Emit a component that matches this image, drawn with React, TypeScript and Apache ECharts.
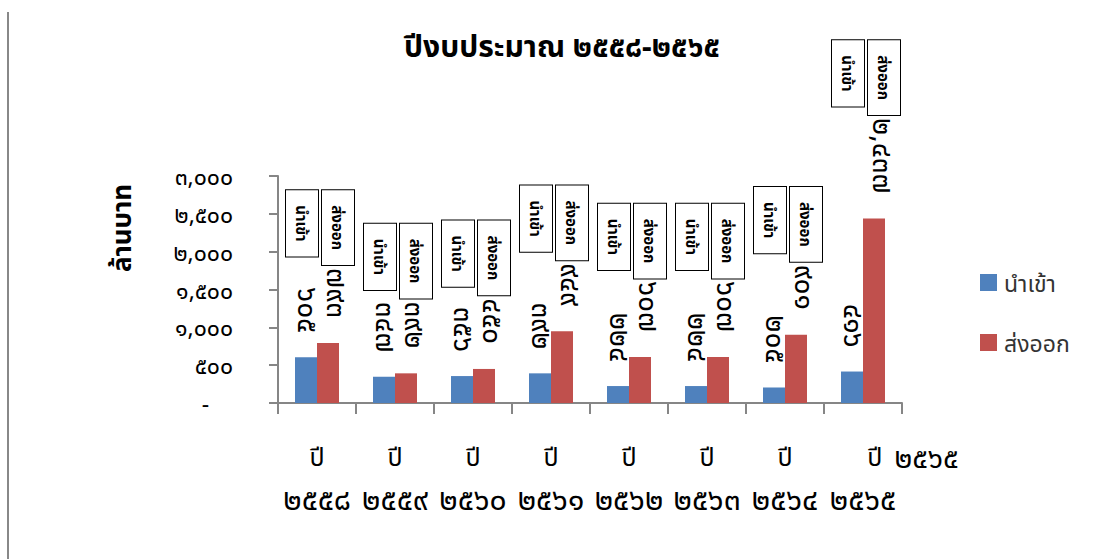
import React, { useEffect, useRef } from "react";
import * as echarts from "echarts";

const years = ["2558", "2559", "2560", "2561", "2562", "2563", "2564", "2565"];
const importValues = [605, 347, 356, 392, 224, 224, 205, 416];
const exportValues = [793, 392, 450, 949, 607, 607, 901, 2437];
const seriesNames = ["นำเข้า", "ส่งออก"];
const titleText = "ปีงบประมาณ ๒๕๕๘-๒๕๖๕";
const yAxisTitle = "ล้านบาท";

const THAI_DIGITS = "๐๑๒๓๔๕๖๗๘๙";
const toThai = (s: string) => s.replace(/[0-9]/g, (d) => THAI_DIGITS[Number(d)]);
const fmt = (n: number) => toThai(n.toLocaleString("en-US"));

const FONT = "'Noto Sans', 'Noto Sans Thai', sans-serif";

export default function App() {
  const ref = useRef<HTMLDivElement>(null);
  useEffect(() => {
    if (!ref.current) return;
    const chart = echarts.init(ref.current, null, { renderer: "svg" });
    const last = years.length - 1;
    const option: any = {
      animation: false,
      backgroundColor: "#ffffff",
      textStyle: { fontFamily: FONT },
      title: {
        text: titleText,
        left: 557,
        textAlign: "center",
        top: 25,
        textStyle: { fontSize: 30, fontWeight: "bold", color: "#000", fontFamily: FONT },
      },
      legend: {
        orient: "vertical",
        left: 975,
        top: 266,
        itemWidth: 17,
        itemHeight: 17,
        itemGap: 37,
        icon: "rect",
        textStyle: { fontSize: 23, color: "#333", fontFamily: FONT, padding: [0, 0, 0, 2] },
        data: seriesNames,
      },
      grid: { left: 278, right: 191, top: 176, bottom: 156, containLabel: false },
      xAxis: {
        type: "category",
        data: years.map(toThai),
        axisLine: { lineStyle: { color: "#868686", width: 2 } },
        axisTick: { show: true, length: 11, lineStyle: { color: "#868686", width: 2 } },
        axisLabel: {
          interval: 0,
          margin: 31,
          formatter: (v: string, i: number) =>
            i === last ? `{sp| }{a|ปี}{c|${v}}\n{b|${v}}` : `{a|ปี}\n{b|${v}}`,
          rich: {
            a: { fontSize: 25, color: "#000", lineHeight: 44, fontFamily: FONT },
            c: { fontSize: 29, color: "#000", lineHeight: 44, padding: [0, 0, 0, 12], fontFamily: FONT },
            b: { fontSize: 30, color: "#000", lineHeight: 40, fontFamily: FONT },
            sp: { width: 100, fontSize: 24 },
          },
        },
      },
      yAxis: {
        type: "value",
        min: 0,
        max: 3000,
        interval: 500,
        splitLine: { show: false },
        axisLine: { show: true, lineStyle: { color: "#868686", width: 2 } },
        axisTick: { show: true, length: 9, lineStyle: { color: "#868686", width: 2 } },
        axisLabel: {
          margin: 45,
          fontSize: 23,
          color: "#000",
          fontFamily: FONT,
          formatter: (v: number) => (v === 0 ? "-    " : fmt(v)),
        },
      },
      series: [
        {
          name: seriesNames[0],
          type: "bar",
          data: importValues,
          barWidth: 22,
          barGap: "0%",
          itemStyle: { color: "#4F81BD" },
          label: {
            show: true,
            position: "top",
            distance: 24,
            rotate: -90,
            align: "right",
            verticalAlign: "middle",
            offset: [0, -3],
            fontSize: 28,
            color: "#000",
            fontFamily: FONT,
            formatter: (p: any) => fmt(p.value),
          },
        },
        {
          name: seriesNames[1],
          type: "bar",
          data: exportValues,
          barWidth: 22,
          barGap: "0%",
          itemStyle: { color: "#C0504D" },
          label: {
            show: true,
            position: "top",
            distance: 25,
            rotate: -90,
            align: "right",
            verticalAlign: "middle",
            offset: [0, 8],
            fontFamily: FONT,
            formatter: (p: any) =>
              `{box|${seriesNames[1]}}{g| }{val|${fmt(p.value)}}\n{box|${seriesNames[0]}}`,
            rich: {
              box: {
                fontSize: 15,
                fontWeight: "bold",
                color: "#000",
                borderColor: "#000",
                borderWidth: 1,
                backgroundColor: "#fff",
                height: 32,
                padding: [0, 15],
                align: "left",
                lineHeight: 36,
                fontFamily: FONT,
              },
              g: { width: 3, fontSize: 4, align: "left" },
              val: { fontSize: 28, color: "#000", align: "left", lineHeight: 36, fontFamily: FONT },
            },
          },
        },
      ],
      graphic: [
        {
          type: "line",
          shape: { x1: 8, y1: 12, x2: 8, y2: 559 },
          style: { stroke: "#888", lineWidth: 2 },
        },
        {
          type: "text",
          x: 121,
          y: 228,
          rotation: Math.PI / 2,
          style: {
            text: yAxisTitle,
            fontSize: 26,
            fontWeight: "bold",
            fill: "#000",
            align: "center",
            verticalAlign: "middle",
            fontFamily: FONT,
          },
        },
      ],
    };
    chart.setOption(option);
    return () => chart.dispose();
  }, []);
  return (
    <div
      ref={ref}
      style={{ position: "absolute", left: 0, top: 0, width: 1093, height: 559 }}
    />
  );
}
